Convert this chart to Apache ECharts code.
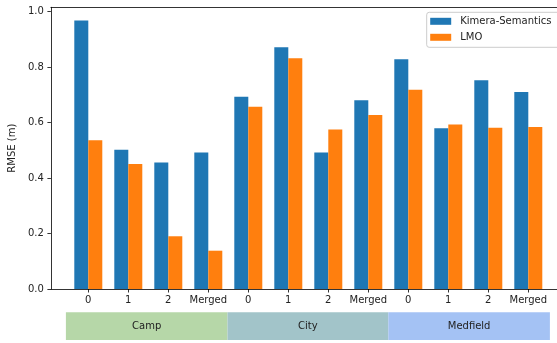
<!DOCTYPE html>
<html>
<head>
<meta charset="utf-8">
<script src="https://cdn.jsdelivr.net/npm/echarts@6/dist/echarts.min.js"></script>
<style>
  html, body { margin: 0; padding: 0; background: #fff; }
  #chart { width: 557px; height: 343px; }
</style>
</head>
<body>
<div id="chart"></div>
<script>
// Sequence labels along the x axis, three datasets of four runs each
const categories = ['0', '1', '2', 'Merged', '0', '1', '2', 'Merged', '0', '1', '2', 'Merged'];
const datasets = ['Camp', 'City', 'Medfield'];

// RMSE in metres per run
const kimeraSemantics = [0.967, 0.502, 0.456, 0.492, 0.693, 0.871, 0.492, 0.680, 0.828, 0.579, 0.752, 0.710];
const lmo = [0.536, 0.450, 0.190, 0.138, 0.657, 0.831, 0.575, 0.627, 0.718, 0.593, 0.581, 0.584];

const yTicks = [0.0, 0.2, 0.4, 0.6, 0.8, 1.0];

// Layout helpers
const BAR_W = 0.35;
const X_MIN = -0.935, X_MAX = 11.935;
const bandEdges = [-0.56, 3.48, 7.5, 11.54];
const bandColors = ['#b6d7a8', '#a2c4c9', '#a4c2f4'];
const FONT = 'DejaVu Sans';
const SPINE = { color: '#000', width: 0.8 };

function barRenderer(offset) {
  return function (params, api) {
    const x = api.value(0), v = api.value(1);
    const p0 = api.coord([x + offset, v]);
    const p1 = api.coord([x + offset + BAR_W, 0]);
    return {
      type: 'rect',
      shape: { x: p0[0], y: p0[1], width: p1[0] - p0[0], height: p1[1] - p0[1] },
      style: { fill: api.visual('color') }
    };
  };
}

const idx = categories.map((_, i) => i);
const hidden = { axisLine: { show: false, onZero: false }, axisTick: { show: false }, axisLabel: { show: false }, splitLine: { show: false } };

const chart = echarts.init(document.getElementById('chart'), null, { renderer: 'canvas' });
chart.setOption({
  animation: false,
  backgroundColor: '#fff',
  textStyle: { fontFamily: FONT },
  grid: [
    { left: 50.9, top: 7.3, width: 514.8, height: 281.7, show: false, outerBoundsMode: 'none', containLabel: false },
    { left: 50.9, top: 312.3, width: 514.8, height: 27.7, show: false, outerBoundsMode: 'none' }
  ],
  xAxis: [
    {
      type: 'value', gridIndex: 0, min: X_MIN, max: X_MAX,
      axisLine: { show: true, onZero: false, lineStyle: SPINE },
      axisTick: { show: true, customValues: idx, length: 3.5, lineStyle: SPINE },
      axisLabel: { show: true, customValues: idx, margin: 6, color: '#222', fontSize: 10, fontFamily: FONT,
        formatter: v => categories[Math.round(v)] },
      splitLine: { show: false }
    },
    Object.assign({ type: 'value', gridIndex: 1, min: X_MIN, max: X_MAX }, hidden),
    // top spine
    {
      type: 'value', gridIndex: 0, min: X_MIN, max: X_MAX, position: 'top',
      axisLine: { show: true, onZero: false, lineStyle: SPINE },
      axisTick: { show: false }, axisLabel: { show: false }, splitLine: { show: false }
    }
  ],
  yAxis: [
    {
      type: 'value', gridIndex: 0, min: 0, max: 1.015,
      name: 'RMSE (m)', nameLocation: 'middle', nameGap: 23,
      nameTextStyle: { color: '#222', fontSize: 10, fontFamily: FONT },
      axisLine: { show: true, onZero: false, lineStyle: SPINE },
      axisTick: { show: true, customValues: yTicks, length: 3.5, lineStyle: SPINE },
      axisLabel: { show: true, customValues: yTicks, margin: 7, color: '#222', fontSize: 10, fontFamily: FONT,
        formatter: v => v.toFixed(1) },
      splitLine: { show: false }
    },
    Object.assign({ type: 'value', gridIndex: 1, min: 0, max: 1 }, hidden)
  ],
  legend: {
    data: ['Kimera-Semantics', 'LMO'],
    orient: 'vertical',
    left: 426.7, top: 12.3,
    padding: [3, 20, 4, 3.5],
    itemGap: 4,
    itemWidth: 21, itemHeight: 7,
    icon: 'rect',
    backgroundColor: 'rgba(255,255,255,0.8)',
    borderColor: '#cccccc', borderWidth: 1, borderRadius: 2.5,
    textStyle: { color: '#222', fontSize: 10, fontFamily: FONT, lineHeight: 12, padding: [0, 0, 0, 4] }
  },
  series: [
    {
      name: 'Kimera-Semantics', type: 'custom', xAxisIndex: 0, yAxisIndex: 0,
      itemStyle: { color: '#1f77b4' },
      encode: { x: 0, y: 1 },
      data: kimeraSemantics.map((v, i) => [i, v]),
      renderItem: barRenderer(-BAR_W)
    },
    {
      name: 'LMO', type: 'custom', xAxisIndex: 0, yAxisIndex: 0,
      itemStyle: { color: '#ff7f0e' },
      encode: { x: 0, y: 1 },
      data: lmo.map((v, i) => [i, v]),
      renderItem: barRenderer(0)
    },
    {
      name: 'datasets', type: 'custom', xAxisIndex: 1, yAxisIndex: 1,
      encode: { x: [0, 1] },
      data: datasets.map((name, i) => [bandEdges[i], bandEdges[i + 1], name]),
      renderItem: function (params, api) {
        const i = params.dataIndex;
        const p0 = api.coord([api.value(0), 1]);
        const p1 = api.coord([api.value(1), 0]);
        return {
          type: 'rect',
          shape: { x: p0[0], y: p0[1], width: p1[0] - p0[0], height: p1[1] - p0[1] },
          style: { fill: bandColors[i] },
          textContent: {
            style: { text: datasets[i], fill: '#222', fontSize: 10, fontFamily: FONT }
          },
          textConfig: { position: 'inside' }
        };
      }
    }
  ]
});
</script>
</body>
</html>
